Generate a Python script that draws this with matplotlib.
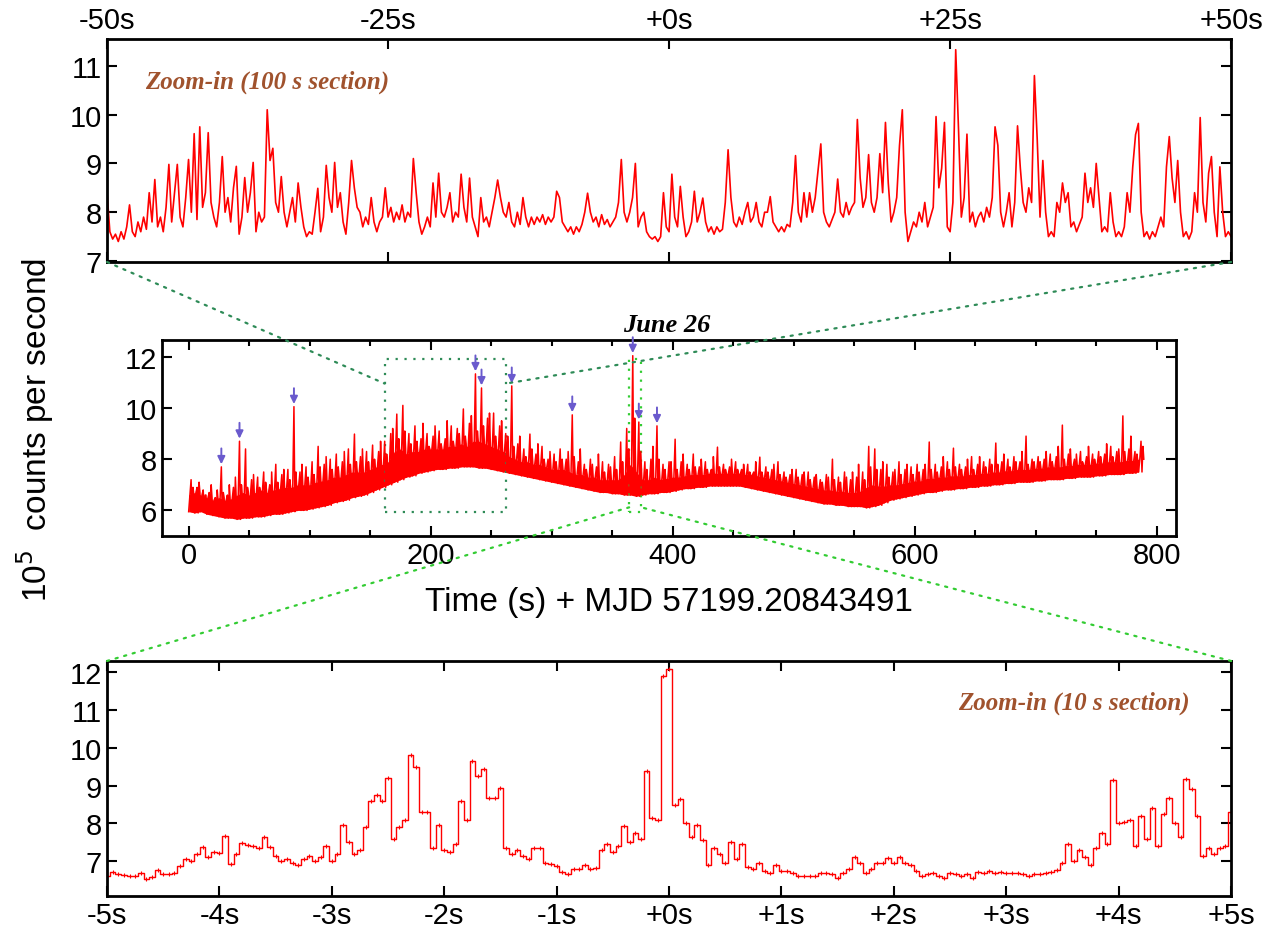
import numpy as np
import matplotlib
matplotlib.use("Agg")
import matplotlib.pyplot as plt
from matplotlib.patches import Rectangle, ConnectionPatch
from matplotlib.ticker import FuncFormatter, MultipleLocator

plt.rcParams['font.family'] = ['Liberation Sans', 'DejaVu Sans']

# ---- middle panel: full light curve per 5 s bin (1e5 counts/s)
# lower edge, top of the dense band, highest and second spike in the bin
mid_bin = 5.0
mid_lo = [5.95, 5.9, 5.95, 5.85, 5.8, 5.75, 5.7, 5.7, 5.65, 5.7,
          5.7, 5.75, 5.75, 5.8, 5.85, 5.85, 5.9, 5.95, 6.0, 6.0,
          6.05, 6.1, 6.15, 6.2, 6.3, 6.35, 6.4, 6.5, 6.55, 6.6,
          6.7, 6.8, 6.9, 7.0, 7.1, 7.2, 7.3, 7.35, 7.45, 7.5,
          7.55, 7.6, 7.6, 7.65, 7.65, 7.7, 7.7, 7.7, 7.65, 7.65,
          7.6, 7.55, 7.5, 7.45, 7.4, 7.35, 7.3, 7.25, 7.2, 7.15,
          7.1, 7.05, 7.0, 6.95, 6.9, 6.85, 6.8, 6.75, 6.7, 6.7,
          6.65, 6.65, 6.6, 6.6, 6.55, 6.6, 6.65, 6.65, 6.7, 6.7,
          6.75, 6.8, 6.85, 6.85, 6.9, 6.9, 6.95, 6.95, 6.95, 6.95,
          6.95, 6.95, 6.9, 6.85, 6.8, 6.75, 6.7, 6.65, 6.6, 6.55,
          6.5, 6.45, 6.4, 6.35, 6.3, 6.25, 6.25, 6.2, 6.2, 6.15,
          6.15, 6.15, 6.1, 6.15, 6.2, 6.3, 6.4, 6.45, 6.5, 6.55,
          6.6, 6.65, 6.7, 6.7, 6.75, 6.8, 6.8, 6.85, 6.85, 6.9,
          6.9, 6.95, 6.95, 7.0, 7.0, 7.05, 7.05, 7.1, 7.1, 7.1,
          7.15, 7.15, 7.2, 7.2, 7.2, 7.25, 7.25, 7.3, 7.3, 7.3,
          7.35, 7.35, 7.4, 7.4, 7.4, 7.45, 7.45, 7.5]
mid_band = [6.6, 6.7, 6.6, 6.5, 6.4, 6.5, 6.4, 6.45, 6.6, 6.7,
            6.6, 6.7, 6.8, 6.7, 6.8, 6.85, 6.9, 6.9, 7.0, 7.0,
            7.0, 7.1, 7.15, 7.2, 7.3, 7.3, 7.4, 7.5, 7.5, 7.5,
            7.6, 7.7, 7.8, 7.9, 8.3, 8.4, 8.2, 8.3, 8.3, 8.4,
            8.4, 8.4, 8.4, 8.5, 8.5, 8.6, 8.5, 8.7, 8.7, 8.6,
            8.5, 8.4, 8.3, 8.1, 8.0, 7.9, 7.9, 7.8, 7.8, 7.7,
            7.6, 7.6, 7.6, 7.5, 7.4, 7.4, 7.3, 7.3, 7.2, 7.2,
            7.2, 7.2, 7.4, 7.8, 7.5, 7.2, 7.2, 7.3, 7.2, 7.25,
            7.3, 7.3, 7.35, 7.4, 7.4, 7.4, 7.45, 7.45, 7.45, 7.45,
            7.45, 7.45, 7.4, 7.4, 7.35, 7.3, 7.25, 7.2, 7.15, 7.1,
            7.05, 7.0, 6.95, 6.9, 6.85, 6.8, 6.8, 6.75, 6.75, 6.7,
            6.7, 6.75, 6.9, 7.0, 6.95, 6.95, 7.0, 7.0, 7.05, 7.1,
            7.15, 7.15, 7.25, 7.25, 7.3, 7.3, 7.35, 7.35, 7.35, 7.4,
            7.4, 7.45, 7.45, 7.5, 7.5, 7.55, 7.55, 7.6, 7.6, 7.6,
            7.65, 7.65, 7.7, 7.7, 7.7, 7.75, 7.75, 7.8, 7.8, 7.8,
            7.85, 7.85, 7.9, 7.9, 7.9, 7.95, 7.95, 8.0]
mid_hi = [7.2, 6.9, 6.8, 6.7, 6.5, 7.7, 6.6, 6.9, 8.7, 8.4,
          7.2, 7.3, 7.5, 7.0, 7.8, 7.4, 7.6, 10.05, 7.5, 7.7,
          7.9, 8.5, 7.8, 8.0, 8.2, 7.9, 8.4, 8.98, 8.1, 8.3,
          8.55, 8.3, 8.7, 9.0, 9.76, 10.1, 9.0, 9.3, 8.8, 9.0,
          8.9, 9.1, 8.8, 9.3, 9.2, 9.96, 9.4, 11.33, 10.78, 9.6,
          9.8, 9.3, 9.0, 10.86, 8.6, 8.4, 8.98, 8.2, 8.5, 8.0,
          8.2, 8.4, 8.0, 9.73, 7.9, 7.8, 8.0, 7.7, 7.9, 7.8,
          8.1, 8.67, 9.2, 12.04, 9.45, 7.9, 8.0, 9.3, 7.8, 7.9,
          8.78, 7.9, 7.8, 8.2, 7.7, 7.9, 7.6, 8.47, 7.8, 7.7,
          7.9, 7.6, 7.8, 7.5, 8.08, 7.7, 7.6, 7.9, 7.5, 7.4,
          7.6, 7.4, 7.5, 7.3, 7.2, 7.4, 8.0, 7.3, 7.5, 7.2,
          7.3, 7.5, 8.5, 8.4, 7.6, 7.8, 7.5, 7.9, 7.6, 7.7,
          7.8, 7.6, 8.67, 7.8, 7.7, 7.9, 8.43, 7.8, 7.7, 8.1,
          7.8, 7.9, 8.0, 8.63, 7.9, 8.0, 8.1, 7.9, 8.9, 8.0,
          8.1, 8.0, 8.2, 8.1, 9.33, 8.2, 8.0, 8.3, 8.1, 8.2,
          8.3, 8.2, 8.5, 8.3, 9.69, 8.4, 8.3, 8.7]
mid_hi2 = [6.9, 7.1, 6.6, 7.0, 6.8, 6.7, 7.0, 7.3, 7.0, 6.9,
           7.4, 6.9, 7.1, 7.5, 7.1, 7.6, 7.2, 7.5, 7.8, 7.3,
           7.4, 7.7, 8.1, 7.6, 7.7, 8.3, 7.8, 7.9, 8.4, 7.9,
           8.0, 8.7, 8.2, 9.2, 8.8, 9.1, 8.6, 8.7, 9.4, 8.5,
           9.3, 8.6, 9.5, 8.7, 9.0, 8.9, 9.7, 9.1, 9.3, 9.8,
           8.9, 9.5, 8.9, 8.5, 8.9, 8.1, 8.4, 8.6, 8.0, 8.3,
           7.9, 8.0, 8.3, 8.1, 8.4, 7.6, 7.8, 8.2, 7.5, 7.7,
           7.6, 7.9, 8.4, 9.6, 8.3, 7.6, 8.5, 8.0, 7.6, 7.9,
           7.6, 8.2, 7.6, 7.7, 8.0, 7.6, 8.1, 7.7, 7.6, 8.0,
           7.6, 7.8, 7.5, 7.9, 7.5, 7.5, 7.8, 7.4, 7.3, 7.6,
           7.3, 7.5, 7.2, 7.4, 7.1, 7.3, 7.2, 7.1, 7.3, 7.5,
           7.8, 7.2, 7.7, 7.6, 7.9, 7.3, 7.6, 7.4, 7.8, 7.4,
           7.5, 7.8, 7.6, 7.5, 8.1, 7.6, 7.7, 7.6, 8.0, 7.6,
           8.1, 7.7, 7.8, 7.8, 8.2, 7.7, 7.9, 8.3, 7.8, 7.9,
           7.9, 8.3, 7.9, 8.5, 8.0, 8.4, 8.2, 7.9, 8.5, 8.0,
           8.1, 8.6, 8.1, 8.4, 8.3, 8.9, 8.2, 8.5]
# flares marked with arrows (s)
flare_times = [25.6, 43.6, 87.6, 237, 243.8, 265, 315.7, 368.6, 374.4, 389]

# zoom windows (s in the full light curve)
zoom100_start, zoom100_len = 162, 100
zoom10_center, zoom10_len = 369, 10
box_ylo, box_yhi = 5.92, 11.92

# ---- top panel: 100 s section, 0.25 s samples
top_vals = [
    8.4, 7.6, 7.45, 7.55, 7.4, 7.6, 7.45, 7.7, 8.15, 7.6, 7.5, 7.8, 7.6, 7.9, 7.65, 8.4, 7.8, 8.67, 7.7, 7.9,
    7.6, 8.1, 8.98, 7.8, 8.4, 8.98, 7.9, 7.7, 8.3, 9.08, 8.0, 9.61, 7.85, 9.75, 8.1, 8.4, 9.63, 8.2, 7.9, 7.7,
    8.2, 9.14, 8.0, 8.3, 7.8, 8.5, 8.94, 7.55, 7.9, 8.71, 8.0, 8.4, 9.02, 7.6, 8.0, 7.8, 7.9, 10.1, 9.06, 9.31,
    8.2, 8.0, 8.73, 8.0, 7.7, 8.0, 8.3, 7.8, 8.6, 8.1, 7.7, 7.5, 7.6, 7.55, 8.0, 8.49, 7.6, 7.9, 8.96, 8.3,
    8.0, 9.02, 8.1, 8.4, 7.8, 7.55, 8.2, 9.06, 8.5, 8.1, 8.0, 7.7, 7.9, 7.75, 8.3, 7.8, 7.6, 7.8, 7.9, 8.5,
    7.9, 8.1, 7.8, 8.0, 7.85, 8.15, 7.8, 8.0, 7.9, 9.1, 8.4, 7.8, 7.55, 7.7, 7.9, 7.7, 8.6, 7.9, 8.8, 8.0,
    7.9, 8.1, 8.4, 7.8, 8.0, 7.9, 8.78, 8.1, 7.8, 8.7, 7.9, 7.7, 7.5, 8.3, 7.8, 7.9, 7.7, 8.0, 8.3, 8.66,
    8.3, 8.0, 7.9, 8.2, 7.8, 7.7, 8.0, 7.75, 8.3, 7.9, 7.7, 7.9, 7.75, 7.9, 7.8, 7.95, 7.75, 7.9, 7.8, 7.9,
    8.43, 8.3, 7.8, 7.7, 7.6, 7.7, 7.55, 7.7, 7.6, 7.75, 8.0, 8.39, 8.0, 7.8, 7.9, 7.7, 7.95, 7.75, 7.85, 7.7,
    7.8, 7.9, 8.2, 9.08, 8.0, 7.8, 8.0, 8.3, 9.0, 7.7, 7.9, 8.0, 7.6, 7.5, 7.45, 7.5, 7.4, 7.5, 8.4, 7.7,
    7.6, 8.78, 7.9, 7.7, 8.53, 7.9, 7.5, 7.6, 7.8, 8.43, 7.8, 8.0, 8.29, 7.8, 7.6, 7.7, 7.55, 7.7, 7.6, 7.65,
    8.2, 9.28, 8.3, 7.8, 7.7, 7.9, 7.75, 8.0, 8.2, 7.8, 7.9, 8.2, 7.8, 7.7, 8.0, 8.0, 8.32, 7.8, 7.7, 7.6,
    7.7, 7.6, 7.75, 7.7, 8.2, 9.16, 8.0, 7.8, 8.4, 7.9, 8.4, 8.0, 8.3, 8.86, 9.4, 8.0, 7.8, 7.7, 7.85, 8.0,
    8.68, 8.0, 7.9, 8.2, 7.95, 8.1, 8.2, 9.9, 8.7, 8.1, 8.3, 9.18, 8.2, 8.0, 8.3, 9.2, 8.4, 9.84, 8.6, 7.8,
    8.0, 8.3, 9.37, 10.1, 8.0, 7.4, 7.6, 7.8, 7.7, 8.0, 7.8, 8.2, 7.7, 7.9, 8.1, 9.96, 8.5, 8.9, 9.84, 7.7,
    7.6, 8.2, 11.33, 9.7, 7.9, 8.3, 9.6, 7.8, 8.0, 7.7, 7.9, 8.0, 7.8, 8.1, 7.9, 8.3, 9.75, 9.37, 8.0, 7.7,
    8.0, 8.4, 7.7, 8.2, 9.77, 8.9, 8.2, 8.0, 8.5, 8.2, 10.8, 9.5, 7.9, 9.06, 8.0, 7.5, 7.6, 7.5, 8.2, 8.0,
    8.6, 8.2, 8.4, 7.7, 7.8, 7.6, 7.75, 7.9, 8.8, 8.2, 8.5, 8.1, 9.0, 8.3, 7.6, 7.7, 7.6, 8.4, 7.8, 7.5,
    7.6, 7.5, 7.7, 8.4, 8.0, 8.93, 9.59, 9.82, 8.0, 7.5, 7.6, 7.45, 7.6, 7.5, 7.7, 7.9, 7.7, 8.93, 9.55, 8.7,
    8.2, 9.06, 8.0, 7.5, 7.6, 7.45, 7.6, 8.4, 8.0, 9.94, 8.2, 7.8, 8.8, 9.14, 8.0, 7.5, 8.93, 8.0, 7.5, 7.6,
    7.5]

# ---- bottom panel: 10 s section, 0.05 s samples
bot_vals = [
    6.62, 6.72, 6.66, 6.64, 6.6, 6.62, 6.68, 6.53, 6.57, 6.78, 6.65, 6.66, 6.68, 6.88, 7.06, 7.0, 7.2, 7.38, 7.12, 7.25,
    7.22, 7.68, 6.92, 7.2, 7.48, 7.42, 7.4, 7.35, 7.65, 7.38, 7.15, 7.0, 7.05, 6.95, 6.9, 7.05, 7.15, 7.0, 7.1, 7.4,
    7.0, 7.2, 7.95, 7.5, 7.2, 7.3, 7.9, 8.6, 8.75, 8.6, 9.2, 7.6, 7.9, 8.1, 9.8, 9.5, 8.3, 8.3, 7.35, 7.95,
    7.3, 7.25, 7.45, 8.6, 8.1, 9.65, 9.25, 9.45, 8.68, 8.68, 8.95, 7.35, 7.2, 7.3, 7.15, 7.05, 7.35, 7.35, 6.95, 6.92,
    6.88, 6.72, 6.65, 6.8, 6.8, 6.9, 6.8, 6.82, 7.3, 7.45, 7.25, 7.4, 7.94, 7.5, 7.75, 7.6, 9.4, 8.15, 8.1, 11.9,
    12.08, 8.5, 8.64, 8.0, 7.65, 7.95, 7.55, 6.9, 7.35, 7.2, 6.95, 7.5, 7.05, 7.45, 6.85, 6.8, 6.95, 6.75, 6.7, 6.9,
    6.75, 6.75, 6.7, 6.6, 6.62, 6.6, 6.62, 6.7, 6.68, 6.65, 6.55, 6.7, 6.8, 7.1, 6.95, 6.7, 6.8, 6.95, 6.95, 7.08,
    6.95, 7.1, 6.95, 6.9, 6.75, 6.6, 6.65, 6.7, 6.6, 6.55, 6.7, 6.65, 6.6, 6.65, 6.55, 6.72, 6.7, 6.75, 6.7, 6.72,
    6.7, 6.68, 6.7, 6.65, 6.6, 6.65, 6.65, 6.7, 6.72, 6.78, 6.95, 7.45, 7.0, 7.3, 7.1, 6.9, 7.35, 7.75, 7.45, 9.15,
    8.0, 8.05, 8.1, 7.4, 8.2, 7.6, 8.4, 7.4, 8.25, 8.68, 8.0, 7.65, 9.17, 8.9, 8.2, 7.15, 7.35, 7.2, 7.35, 7.4,
    8.3]

red = '#ff0000'
tick_fs = 21
label_font = dict(family='Liberation Serif', style='italic', weight='bold')

fig = plt.figure(figsize=(12.82, 9.45), dpi=100)
ax_top = fig.add_axes([0.0835, 0.7217, 0.8768, 0.236])
ax_mid = fig.add_axes([0.1264, 0.4317, 0.791, 0.2074])
ax_bot = fig.add_axes([0.0835, 0.0508, 0.8768, 0.2487])

for ax in (ax_top, ax_mid, ax_bot):
    for s in ax.spines.values():
        s.set_linewidth(2)
    ax.tick_params(which='both', direction='in', top=True, right=True,
                   labelsize=tick_fs, width=1.5)
    ax.tick_params(which='major', length=7)
    ax.tick_params(which='minor', length=4)

sec_fmt = FuncFormatter(lambda v, p: f"{v:+.0f}s" if v != 0 else "+0s")

# top panel
t_top = np.linspace(-50, 50, len(top_vals))
ax_top.plot(t_top, top_vals, color=red, lw=1.2)
ax_top.set_xlim(-50, 50)
ax_top.set_ylim(6.98, 11.55)
ax_top.xaxis.set_major_locator(MultipleLocator(25))
ax_top.yaxis.set_major_locator(MultipleLocator(1))
ax_top.xaxis.set_major_formatter(sec_fmt)
ax_top.tick_params(labeltop=True, labelbottom=False)
ax_top.text(0.034, 0.81, 'Zoom-in (100 s section)', transform=ax_top.transAxes,
            color='#a0522d', fontsize=18, va='center', ha='left', **label_font)

# middle panel: per bin the trace goes lower edge -> band -> spike -> lower -> spike2 -> band
n = len(mid_lo)
t0 = np.arange(n) * mid_bin
offsets = [0.0, 1.0, 2.0, 2.8, 3.6, 4.3]
levels = [mid_lo, mid_band, mid_hi, mid_lo, mid_hi2, mid_band]
k = len(offsets)
t_mid = np.empty(k * n)
y_mid = np.empty(k * n)
for j in range(k):
    t_mid[j::k] = t0 + offsets[j]
    y_mid[j::k] = levels[j]
ax_mid.fill_between(t0, mid_lo, mid_band, color=red, lw=0)
ax_mid.plot(t_mid, y_mid, color=red, lw=1.1)
ax_mid.set_xlim(-22, 816)
ax_mid.set_ylim(5.0, 12.65)
ax_mid.xaxis.set_major_locator(MultipleLocator(200))
ax_mid.xaxis.set_minor_locator(MultipleLocator(50))
ax_mid.yaxis.set_major_locator(MultipleLocator(2))
ax_mid.set_xlabel('Time (s) + MJD 57199.20843491', fontsize=24, labelpad=12)

for ft in flare_times:
    i = int(ft // mid_bin)
    x, y = t0[i] + offsets[2], mid_hi[i]
    ax_mid.annotate('', xy=(x, y + 0.1), xytext=(x, y + 0.72),
                    arrowprops=dict(arrowstyle='-|>,head_width=0.22,head_length=0.45',
                                    color='#6a5acd', lw=1.4, shrinkA=0, shrinkB=0))

dark_green = '#2e8b57'
lime = '#33cc33'
ax_mid.add_patch(Rectangle((zoom100_start, box_ylo), zoom100_len, box_yhi - box_ylo,
                           fill=False, ec=dark_green, ls=(0, (1, 3)), lw=1.6))
ax_mid.add_patch(Rectangle((zoom10_center - zoom10_len / 2, box_ylo), zoom10_len,
                           box_yhi - box_ylo, fill=False, ec=lime, ls=(0, (1, 3)), lw=1.6))

fig.text(0.5203, 0.656, 'June 26', fontsize=19, ha='center', va='center', **label_font)

# bottom panel
t_bot = np.linspace(-5, 5, len(bot_vals))
ax_bot.plot(t_bot, bot_vals, color=red, lw=1.0, drawstyle='steps-mid')
ax_bot.plot(t_bot, bot_vals, ls='none', marker='+', ms=3, color=red, mew=0.8)
ax_bot.set_xlim(-5, 5)
ax_bot.set_ylim(6.08, 12.3)
ax_bot.xaxis.set_major_locator(MultipleLocator(1))
ax_bot.yaxis.set_major_locator(MultipleLocator(1))
ax_bot.xaxis.set_major_formatter(sec_fmt)
ax_bot.text(0.9635, 0.826, 'Zoom-in (10 s section)', transform=ax_bot.transAxes,
            color='#a0522d', fontsize=18, va='center', ha='right', **label_font)

# connector lines
link_y = 10.95
for xa, xb in ((-50, zoom100_start), (50, zoom100_start + zoom100_len)):
    fig.add_artist(ConnectionPatch(xyA=(xa, 6.98), coordsA=ax_top.transData,
                                   xyB=(xb, link_y), coordsB=ax_mid.transData,
                                   color=dark_green, ls=(0, (1, 3)), lw=1.6))
for xa, xb in ((-5, zoom10_center - zoom10_len / 2), (5, zoom10_center + zoom10_len / 2)):
    fig.add_artist(ConnectionPatch(xyA=(xa, 12.3), coordsA=ax_bot.transData,
                                   xyB=(xb, 6.12), coordsB=ax_mid.transData,
                                   color=lime, ls=(0, (1, 3)), lw=1.6))

fig.text(0.027, 0.545, r'10$^5$  counts per second', rotation=90, fontsize=24,
         ha='center', va='center')

fig.savefig('out.png', dpi=100)
